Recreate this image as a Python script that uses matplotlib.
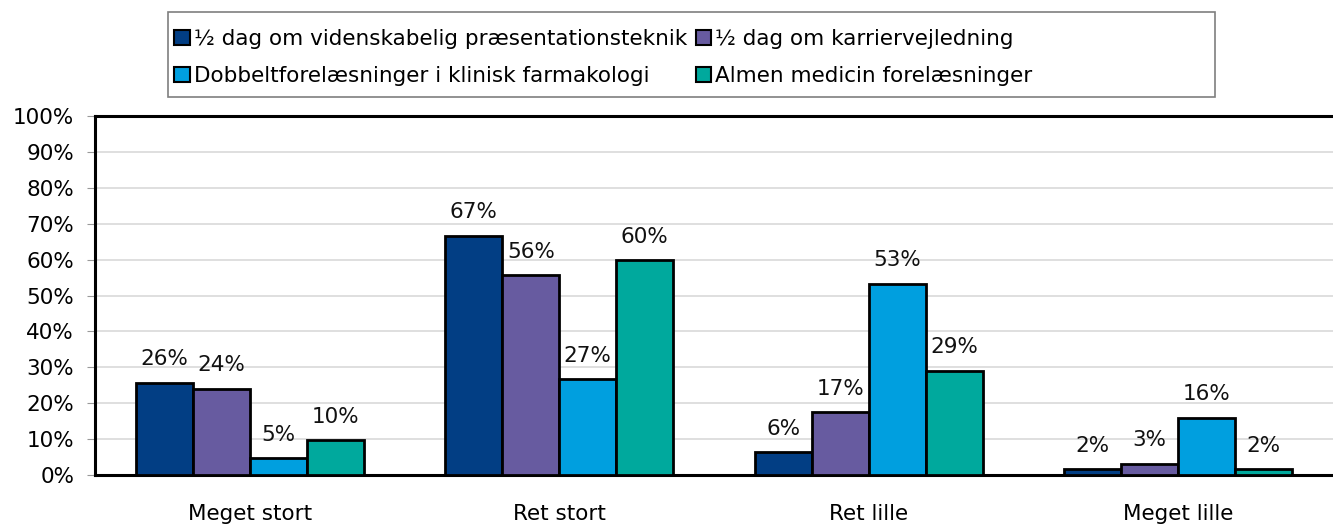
import matplotlib.pyplot as plt
from matplotlib.patches import Rectangle
import numpy as np

plt.rcParams['font.family'] = ['DejaVu Sans']

categories = ['Meget stort', 'Ret stort', 'Ret lille', 'Meget lille']
series = ['½ dag om videnskabelig præsentationsteknik',
          '½ dag om karriervejledning',
          'Dobbeltforelæsninger i klinisk farmakologi',
          'Almen medicin forelæsninger']
values = [
    [0.257, 0.667, 0.063, 0.016],
    [0.240, 0.556, 0.175, 0.032],
    [0.047, 0.267, 0.532, 0.159],
    [0.097, 0.598, 0.290, 0.016],
]
labels = [
    ['26%', '67%', '6%', '2%'],
    ['24%', '56%', '17%', '3%'],
    ['5%', '27%', '53%', '16%'],
    ['10%', '60%', '29%', '2%'],
]
colors = ['#023E84', '#675BA0', '#009FDF', '#00A99D']

W, H = 1333, 526
fs = 15.5
fig = plt.figure(figsize=(W / 100, H / 100), dpi=100)
ax = fig.add_axes([95 / W, (H - 475) / H, (W - 95) / W, (475 - 116) / H])

x = np.arange(len(categories))
bw = 0.184
for i, (vals, lab, c) in enumerate(zip(values, labels, colors)):
    pos = x + (i - 1.5) * bw
    bars = ax.bar(pos, vals, bw, color=c, edgecolor='black', linewidth=2,
                  label=series[i], zorder=3)
    for b, t in zip(bars, lab):
        ax.annotate(t, (b.get_x() + b.get_width() / 2, b.get_height()),
                    xytext=(0, 17), textcoords='offset points',
                    ha='center', va='center', fontsize=fs, color='#111111')

ax.set_xlim(-0.5, 3.5)
ax.set_ylim(0, 1.0)
ax.set_yticks(np.arange(0, 1.01, 0.1))
ax.set_yticklabels([f'{int(round(v * 100))}%' for v in np.arange(0, 1.01, 0.1)],
                   fontsize=fs)
ax.set_xticks(x)
ax.set_xticklabels(categories, fontsize=fs)
ax.tick_params(axis='x', length=0, pad=21)
ax.tick_params(axis='y', length=6, color='#999999', pad=9)
ax.grid(axis='y', color='#d9d9d9', linewidth=1.2, zorder=0)
for s in ['left', 'bottom', 'top']:
    ax.spines[s].set_linewidth(2.2)
ax.spines['right'].set_visible(False)

# legend frame drawn by hand, wider than the entries like in the original
fig.patches.append(Rectangle((168 / W, (H - 97) / H), (1215 - 168) / W, 85 / H,
                             transform=fig.transFigure, fill=False,
                             edgecolor='#7f7f7f', linewidth=1.2))
h, l = ax.get_legend_handles_labels()
order = [0, 2, 1, 3]
leg = fig.legend([h[k] for k in order], [l[k] for k in order], ncol=2,
                 loc='upper left', bbox_to_anchor=(168 / W, (H - 23) / H),
                 fontsize=fs, frameon=False,
                 handlelength=0.7, handleheight=0.7, handletextpad=0.2,
                 columnspacing=0.4, borderpad=0.3, labelspacing=0.78,
                 borderaxespad=0)
for p in leg.get_patches():
    p.set_linewidth(1.5)

fig.savefig('out.png', dpi=100)
